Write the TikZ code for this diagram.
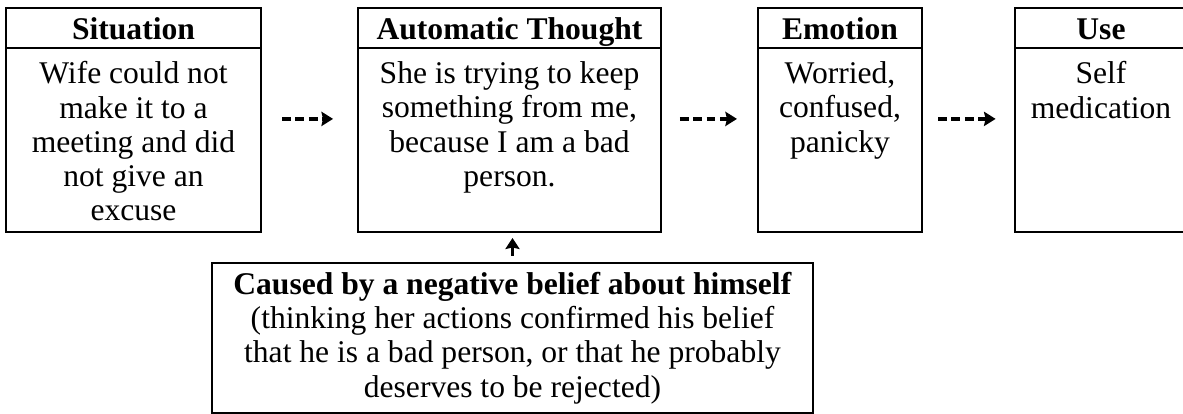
\documentclass[tikz,border=0pt]{standalone}
\usepackage{fontspec}
\setmainfont{Liberation Serif}
\usetikzlibrary{positioning, arrows.meta}
\tikzstyle{head} = [rectangle, draw=black, line width=0.8pt, outer sep=0pt,
inner sep=0pt, minimum height=15.2pt, text height=12pt, text depth=3.2pt,
font=\fontsize{12}{13}\selectfont\bfseries]
\tikzstyle{body} = [rectangle, draw=black, line width=0.8pt, outer sep=0pt,
inner sep=0pt, minimum height=69.9pt]
\tikzstyle{words} = [anchor=north, align=center, inner sep=0pt,
font=\fontsize{12}{13}\selectfont]
\tikzstyle{belief} = [rectangle, draw=black, line width=0.8pt, outer sep=0pt,
inner sep=0pt, minimum width=228.4pt, minimum height=57pt, align=center,
font=\fontsize{12}{13}\selectfont]
\tikzstyle{arrow} = [line width=1.3pt, dash pattern=on 3.3pt off 1.8pt,
-{Stealth[length=4.4pt, width=5.4pt, inset=0.6pt]}]
\tikzstyle{uparrow} = [line width=1.3pt, -{Stealth[length=4.2pt, width=5.4pt, inset=0.6pt]}]

\begin{document}
\begin{tikzpicture}[x=0.38pt, y=-0.38pt]
\useasboundingbox (0,0) rectangle (1183,414);

\node(sithead)[head, minimum width=96.9pt] at (133.5,28) {Situation};
\node(sitbody)[body, minimum width=96.9pt, below=0pt of sithead] {};
\node(athead)[head, minimum width=115.1pt] at (509.5,28) {Automatic Thought};
\node(atbody)[body, minimum width=115.1pt, below=0pt of athead] {};
\node(emohead)[head, minimum width=62.3pt] at (840,28) {Emotion};
\node(emobody)[body, minimum width=62.3pt, below=0pt of emohead] {};
\node(usehead)[head, minimum width=65.7pt] at (1101,28) {Use};
\node(usebody)[body, minimum width=65.7pt, below=0pt of usehead] {};

\node(sittext)[words] at ([yshift=-5pt]sitbody.north) {Wife could not\\make it to a\\meeting and did\\not give an\\excuse};
\node(attext)[words] at ([yshift=-5pt]atbody.north) {She is trying to keep\\something from me,\\because I am a bad\\person.};
\node(emotext)[words] at ([yshift=-5pt]emobody.north) {Worried,\\confused,\\panicky};
\node(usetext)[words] at ([yshift=-5pt]usebody.north) {Self\\medication};

\node(belief)[belief] at (512.5,338) {\textbf{Caused by a negative belief about himself}\\(thinking her actions confirmed his belief\\that he is a bad person, or that he probably\\deserves to be rejected)};

\draw[arrow, shorten <=8pt, shorten >=9.5pt]([yshift=8pt]sitbody.east) -- ([yshift=8pt]atbody.west);
\draw[arrow, shorten <=7.2pt, shorten >=8pt]([yshift=8pt]atbody.east) -- ([yshift=8pt]emobody.west);
\draw[arrow, shorten <=6.1pt, shorten >=7.2pt]([yshift=8pt]emobody.east) -- ([yshift=8pt]usebody.west);
\draw[uparrow, shorten <=2.8pt, shorten >=2.3pt](belief.north) -- (belief.north |- atbody.south);

\end{tikzpicture}
\end{document}
